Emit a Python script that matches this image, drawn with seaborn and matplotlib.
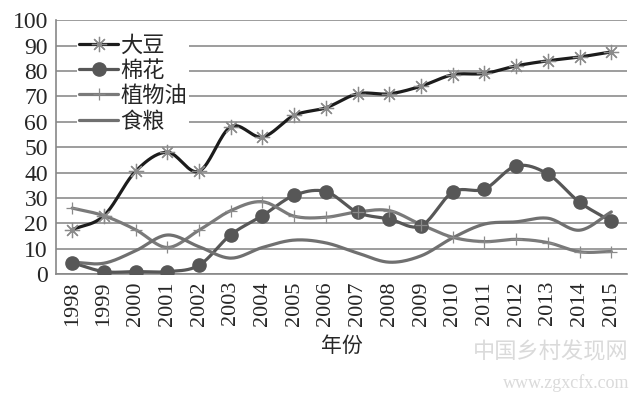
import numpy as np
import pandas as pd
import matplotlib
matplotlib.use("Agg")
import matplotlib.pyplot as plt
import seaborn as sns
from matplotlib.lines import Line2D

years = [str(y) for y in range(1998, 2016)]
soybean = [17.5, 23, 40.5, 48, 40.5, 58, 54, 62.5, 65.5, 71, 71, 74, 78.5, 79, 82, 84, 85.5, 87.5]
cotton = [4.5, 1, 1, 1, 3.5, 15.5, 23, 31, 32.5, 24.3, 21.7, 19, 32.3, 33.5, 42.6, 39.4, 28.3, 20.8]
veg_oil = [26, 23, 17.5, 10.5, 17.3, 25, 28.5, 22.8, 22.4, 24.5, 25, 19.5, 14.5, 12.8, 13.7, 12.4, 8.8, 8.9]
grain = [4.7, 4.3, 9.2, 15.4, 10.8, 6.3, 10.5, 13.4, 12.3, 8.3, 4.7, 7.2, 14.3, 19.7, 20.6, 22, 17.3, 24.5]

names = ["大豆", "棉花", "植物油", "食粮"]
series = [soybean, cotton, veg_oil, grain]
colors = ["#1c1c1c", "#575757", "#7a7a7a", "#707070"]
markers = ["*", "o", "+", None]


def smooth(y, n=20):
    # catmull-rom curve through the points, like excel's smoothed line
    y = np.asarray(y, float)
    x = np.arange(len(y), dtype=float)
    px = np.concatenate([[2 * x[0] - x[1]], x, [2 * x[-1] - x[-2]]])
    py = np.concatenate([[2 * y[0] - y[1]], y, [2 * y[-1] - y[-2]]])
    xs, ys = [], []
    t = np.linspace(0, 1, n, endpoint=False)
    for i in range(1, len(px) - 2):
        for arr, out in ((px, xs), (py, ys)):
            p0, p1, p2, p3 = arr[i - 1], arr[i], arr[i + 1], arr[i + 2]
            out.extend(0.5 * (2 * p1 + (-p0 + p2) * t + (2 * p0 - 5 * p1 + 4 * p2 - p3) * t ** 2
                              + (-p0 + 3 * p1 - 3 * p2 + p3) * t ** 3))
    xs.append(x[-1])
    ys.append(y[-1])
    return np.array(xs), np.array(ys)


sns.set_style("white")
plt.rcParams["font.family"] = ["Noto Sans CJK SC", "DejaVu Sans"]

fig = plt.figure(figsize=(6.4, 3.95), dpi=100)
ax = fig.add_axes([0.088, 0.306, 0.892, 0.643])

x_idx = np.arange(len(years))
handles = []
for name, vals, c, m in zip(names, series, colors, markers):
    sx, sy = smooth(vals)
    df = pd.DataFrame({"x": sx, "y": sy})
    sns.lineplot(data=df, x="x", y="y", ax=ax, color=c, lw=2.3, sort=False, zorder=3)
    if m == "*":
        style = dict(marker=(8, 2, 0), ms=11, mec="#8a8a8a", mew=0.9)
    elif m == "o":
        style = dict(marker="o", ms=9.5, mfc=c, mec=c)
    elif m == "+":
        style = dict(marker="+", ms=9, mec="#8a8a8a", mew=0.9)
    else:
        style = {}
    if style:
        ax.plot(x_idx, vals, ls="none", zorder=4, **style)
    handles.append(Line2D([], [], color=c, lw=2.3, **style))

ax.set_xlim(-0.5, len(years) - 0.5)
ax.set_ylim(0, 100)
ax.set_yticks(range(0, 101, 10))
ax.set_yticklabels([str(v) for v in range(0, 101, 10)], family="Liberation Serif", fontsize=17)
ax.set_xticks(x_idx)
ax.set_xticklabels(years, rotation=90, family="Liberation Serif", fontsize=16)
ax.set_xticks(np.arange(-0.5, len(years), 1), minor=True)
ax.tick_params(axis="x", which="major", length=0, pad=5)
ax.tick_params(axis="x", which="minor", length=5, color="#888888", direction="out")
ax.tick_params(axis="y", length=5, color="#888888", direction="out", pad=1)
ax.grid(axis="y", color="#8c8c8c", lw=1.2)
ax.grid(axis="x", visible=False)
for s in ["top", "right"]:
    ax.spines[s].set_visible(False)
for s in ["left", "bottom"]:
    ax.spines[s].set_color("#888888")
    ax.spines[s].set_linewidth(1.2)
ax.set_ylabel("")
ax.set_xlabel("年份", fontsize=15, labelpad=7)

leg = ax.legend(handles, names, loc="upper left", bbox_to_anchor=(0.036, 0.955), frameon=True,
                fontsize=16, handlelength=1.75, handletextpad=0.1, labelspacing=0.1,
                borderaxespad=0.0, borderpad=0.1, facecolor="white", edgecolor="none", framealpha=1)

fig.text(0.983, 0.11, "中国乡村发现网", ha="right", va="center", fontsize=16, color="#dadada")
fig.text(0.983, 0.03, "www.zgxcfx.com", ha="right", va="center", fontsize=13,
         family="Liberation Serif", color="#dadada")

fig.savefig("out.png", dpi=100)
